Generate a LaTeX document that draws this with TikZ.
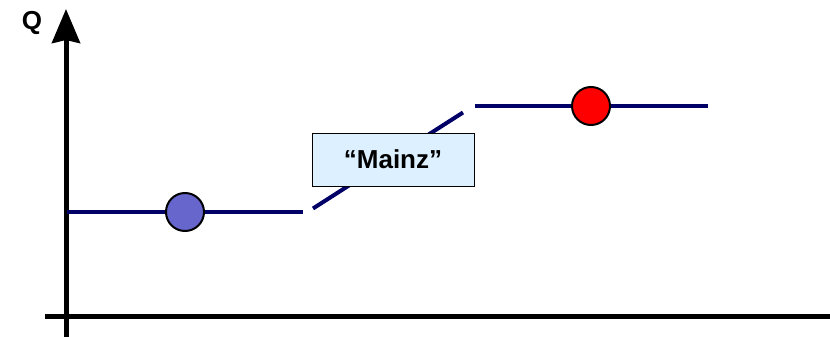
\documentclass[tikz,border=0pt]{standalone}
\usepackage{fontspec}
\setmainfont{Liberation Sans}
\usetikzlibrary{arrows.meta}
\definecolor{navyline}{HTML}{000066}
\definecolor{boxfill}{HTML}{DDF0FF}
\definecolor{dotblue}{HTML}{6666CC}
\begin{document}
\begin{tikzpicture}[x=1pt,y=-1pt,
  axis/.style={line width=5pt,black},
  level/.style={line width=4pt,navyline},
  dot/.style={circle,draw=black,line width=2pt,minimum size=38pt,inner sep=0pt},
  label/.style={draw=black,line width=0.8pt,fill=boxfill,minimum width=162pt,minimum height=53pt,inner sep=0pt,font=\bfseries\fontsize{26}{29}\selectfont}]
  \useasboundingbox (0,0) rectangle (830,337);
  % axes
  \coordinate (yb) at (66,337);
  \coordinate (yt) at (66,9);
  \coordinate (xl) at (45,316.5);
  \coordinate (xr) at (830,316.5);
  \draw[axis,-{Stealth[width=28pt,length=34pt,inset=3pt]}] (yb) -- (yt);
  \draw[axis] (xl) -- (xr);
  \node[font=\bfseries\fontsize{26}{28}\selectfont] (q) at (32,23) {Q};
  % level lines
  \coordinate (a1) at (67,212);
  \coordinate (a2) at (303,212);
  \coordinate (d1) at (313,208.5);
  \coordinate (d2) at (463,112.5);
  \coordinate (b1) at (475,106);
  \coordinate (b2) at (708,106);
  \draw[level] (a1) -- (a2);
  \draw[level] (d1) -- (d2);
  \draw[level] (b1) -- (b2);
  % label box and dots
  \node[label] (mainz) at (393,159.5) {“Mainz”};
  \node[dot,fill=dotblue] (low) at (185,212) {};
  \node[dot,fill=red] (high) at (591,106) {};
\end{tikzpicture}
\end{document}
